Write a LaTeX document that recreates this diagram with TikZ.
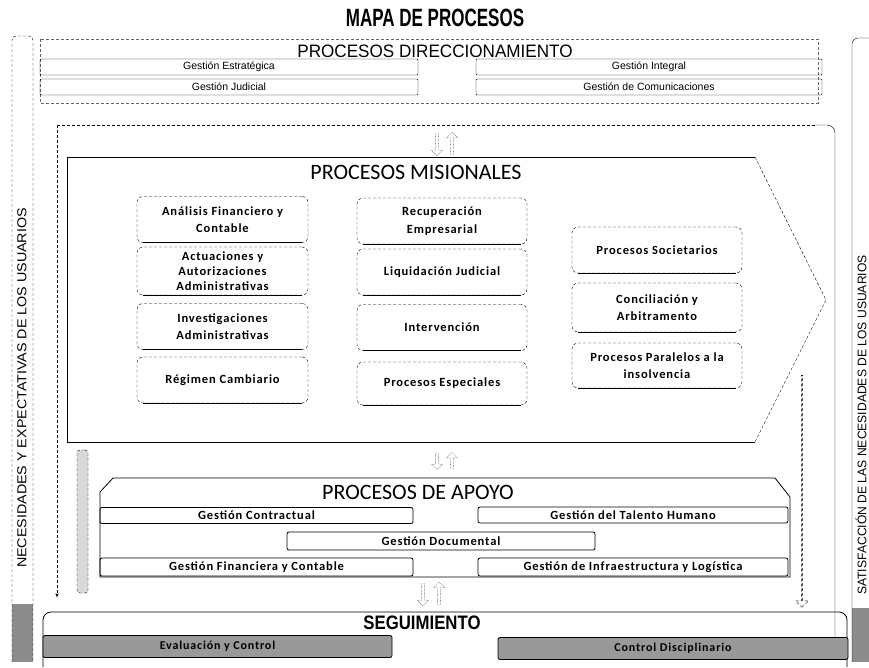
\documentclass[tikz,border=0pt]{standalone}
\usepackage{graphicx}
\usepackage{fontspec}
\setmainfont{Carlito}
\newfontfamily\arialfont{Liberation Sans}
\newfontfamily\boxfont[LetterSpace=7.0]{Carlito}
\usetikzlibrary{calc}
\usetikzlibrary{arrows}
\usetikzlibrary{shapes.arrows}

\begin{document}
\begin{tikzpicture}[x=1pt,y=-1pt,>=stealth']
\tikzset{mbox/.style={draw,densely dashed,rounded corners=6pt,minimum width=171pt,minimum height=46pt,align=center,inner sep=1pt,font=\boxfont\bfseries\fontsize{12.5}{17.5}\selectfont}}
\tikzset{abox/.style={draw,thick,rounded corners=2pt,minimum width=311pt,minimum height=16pt,inner sep=0pt,font=\boxfont\bfseries\fontsize{12.5}{13}\selectfont}}
\tikzset{dbox/.style={draw,rounded corners=1pt,minimum height=16pt,inner sep=0pt,font=\arialfont\fontsize{10.5}{12}\selectfont}}
\tikzset{sbox/.style={draw,thick,fill=black!40,rounded corners=2pt,minimum width=350pt,minimum height=22pt,inner sep=0pt,font=\boxfont\bfseries\fontsize{12}{13}\selectfont}}
\tikzset{secttl/.style={font=\fontsize{22}{26}\selectfont}}
\tikzset{flecha/.style={single arrow,draw,densely dotted,minimum width=11pt,single arrow head extend=2pt,inner sep=0.5pt}}

\useasboundingbox (0,0) rectangle (869,667);

% titulo
\node[font=\arialfont\bfseries\fontsize{25}{30}\selectfont] (titulo) at (435,18) {\scalebox{0.68}[1]{MAPA DE PROCESOS}};

% franjas laterales - usuarios
\fill[black!45] (12,604) rectangle (33,662);
\draw[densely dashed,rounded corners=4pt] (12,662) -- (12,36) -- (33,36) -- (33,662);
\node[rotate=90,inner sep=0pt,font=\arialfont\fontsize{13}{15}\selectfont] (necesidades) at (22,388) {\scalebox{1.1}[1]{NECESIDADES Y EXPECTATIVAS DE LOS USUARIOS}};

\fill[black!45] (852,608) rectangle (869,662);
\draw[rounded corners=6pt] (852,662) -- (852,38) -- (869,38);
\node[rotate=90,inner sep=0pt,font=\arialfont\fontsize{12.5}{14}\selectfont] (satisfaccion) at (861,425) {\scalebox{0.97}[1]{SATISFACCIÓN DE LAS NECESIDADES DE LOS USUARIOS}};

% direccionamiento
\draw[densely dashed,black!60] (40,39) rectangle (818,103);
\node[font=\arialfont\fontsize{18}{20}\selectfont] (direc) at (435,51.5) {\scalebox{0.95}[1]{PROCESOS DIRECCIONAMIENTO}};
\node[dbox,minimum width=378pt] (estrategica) at (229,67) {Gestión Estratégica};
\node[dbox,minimum width=346pt] (integral) at (649,67) {Gestión Integral};
\node[dbox,minimum width=378pt] (judicial) at (229,87) {Gestión Judicial};
\node[dbox,minimum width=346pt] (comunicaciones) at (649,87) {Gestión de Comunicaciones};

% marco exterior con flechas
\coordinate (marcoNO) at (57,125);
\coordinate (marcoSO) at (57,597);
\coordinate (marcoNE) at (835,125);
\coordinate (marcoSE) at (835,658);
\draw[densely dashed] (marcoNO) -- (815,125);
\draw[->,densely dashed] (marcoNO) -- (marcoSO);
\draw[rounded corners=8pt] (815,125) -- (marcoNE) -- (marcoSE);

\node[flecha,minimum height=22pt,shape border rotate=270] (f1a) at (437,144) {};
\node[flecha,minimum height=22pt,shape border rotate=90] (f1b) at (452,144) {};
\node[flecha,minimum height=16pt,shape border rotate=270] (f2a) at (437,461) {};
\node[flecha,minimum height=16pt,shape border rotate=90] (f2b) at (452,461) {};
\node[flecha,minimum height=22pt,shape border rotate=270] (f3a) at (423,594) {};
\node[flecha,minimum height=22pt,shape border rotate=90] (f3b) at (439,594) {};

\node[single arrow,draw,densely dashed,shape border rotate=270,minimum width=13pt,minimum height=232pt,single arrow head extend=2pt,inner sep=0pt] (bajada) at (802,491) {};
\node[draw,densely dashed,fill=black!15,rounded corners=3pt,minimum width=11pt,minimum height=143pt,inner sep=0pt] (subida) at (82.5,521.5) {};

% misionales
\coordinate (misNO) at (67,157);
\coordinate (misNE) at (755,157);
\coordinate (misP) at (826,300);
\coordinate (misSE) at (755,442);
\coordinate (misSO) at (67,442);
\draw[thick] (misNE) -- (misNO) -- (misSO) -- (misSE);
\draw[densely dashed] (misNE) -- (misP) -- (misSE);
\node[secttl] (misionales) at (416,172) {PROCESOS MISIONALES};

\node[mbox] (analisis) at (222.5,219.5) {Análisis Financiero y\\Contable};
\node[mbox,minimum height=48pt,font=\boxfont\bfseries\fontsize{12.5}{15}\selectfont] (actuaciones) at (222.5,271) {Actuaciones y\\Autorizaciones\\Administrativas};
\node[mbox] (investigaciones) at (222.5,326.5) {Investigaciones\\Administrativas};
\node[mbox] (regimen) at (222.5,380) {Régimen Cambiario};

\node[mbox,minimum width=170pt] (recuperacion) at (442,221) {Recuperación\\Empresarial};
\node[mbox,minimum width=170pt] (liquidacion) at (442,272) {Liquidación Judicial};
\node[mbox,minimum width=170pt] (intervencion) at (442,327.5) {Intervención};
\node[mbox,minimum width=170pt,minimum height=43pt] (especiales) at (442,383.5) {Procesos Especiales};

\node[mbox,minimum width=170pt] (societarios) at (657,250) {Procesos Societarios};
\node[mbox,minimum width=170pt,minimum height=49pt] (conciliacion) at (657,307.5) {Conciliación y\\Arbitramento};
\node[mbox,minimum width=170pt,minimum height=45pt] (paralelos) at (657,365.5) {Procesos Paralelos a la\\insolvencia};

\foreach \n in {analisis,actuaciones,investigaciones,regimen,recuperacion,liquidacion,intervencion,especiales,societarios,conciliacion,paralelos}
  \draw[thick] ([xshift=6pt]\n.south west) -- ([xshift=-6pt]\n.south east);

% apoyo
\draw[thick] (100,577) -- (100,492) -- (113,478) -- (775,478) -- (790,497) -- (790,577) -- cycle;
\node[secttl] (apoyo) at (418,492) {PROCESOS DE APOYO};
\node[abox,minimum width=313pt] (contractual) at (256.5,515.5) {Gestión Contractual};
\node[abox,minimum width=310pt] (talento) at (633,515) {Gestión del Talento Humano};
\node[abox,minimum width=308pt,minimum height=18pt] (documental) at (441,541) {Gestión Documental};
\node[abox,minimum width=313pt,minimum height=18pt] (financiera) at (256.5,567) {Gestión Financiera y Contable};
\node[abox,minimum width=310pt,minimum height=18pt] (infraestructura) at (633,567) {Gestión de Infraestructura y Logística};

% seguimiento
\draw[thick,rounded corners=8pt] (43,667) -- (43,612) -- (847,612) -- (847,667);
\node[font=\arialfont\bfseries\fontsize{19.5}{22}\selectfont] (seguimiento) at (422,623) {\scalebox{0.86}[1]{SEGUIMIENTO}};
\node[sbox,minimum width=349pt] (evaluacion) at (217.5,646.5) {Evaluación y Control};
\node[sbox] (disciplinario) at (673,648.5) {Control Disciplinario};

\end{tikzpicture}
\end{document}
